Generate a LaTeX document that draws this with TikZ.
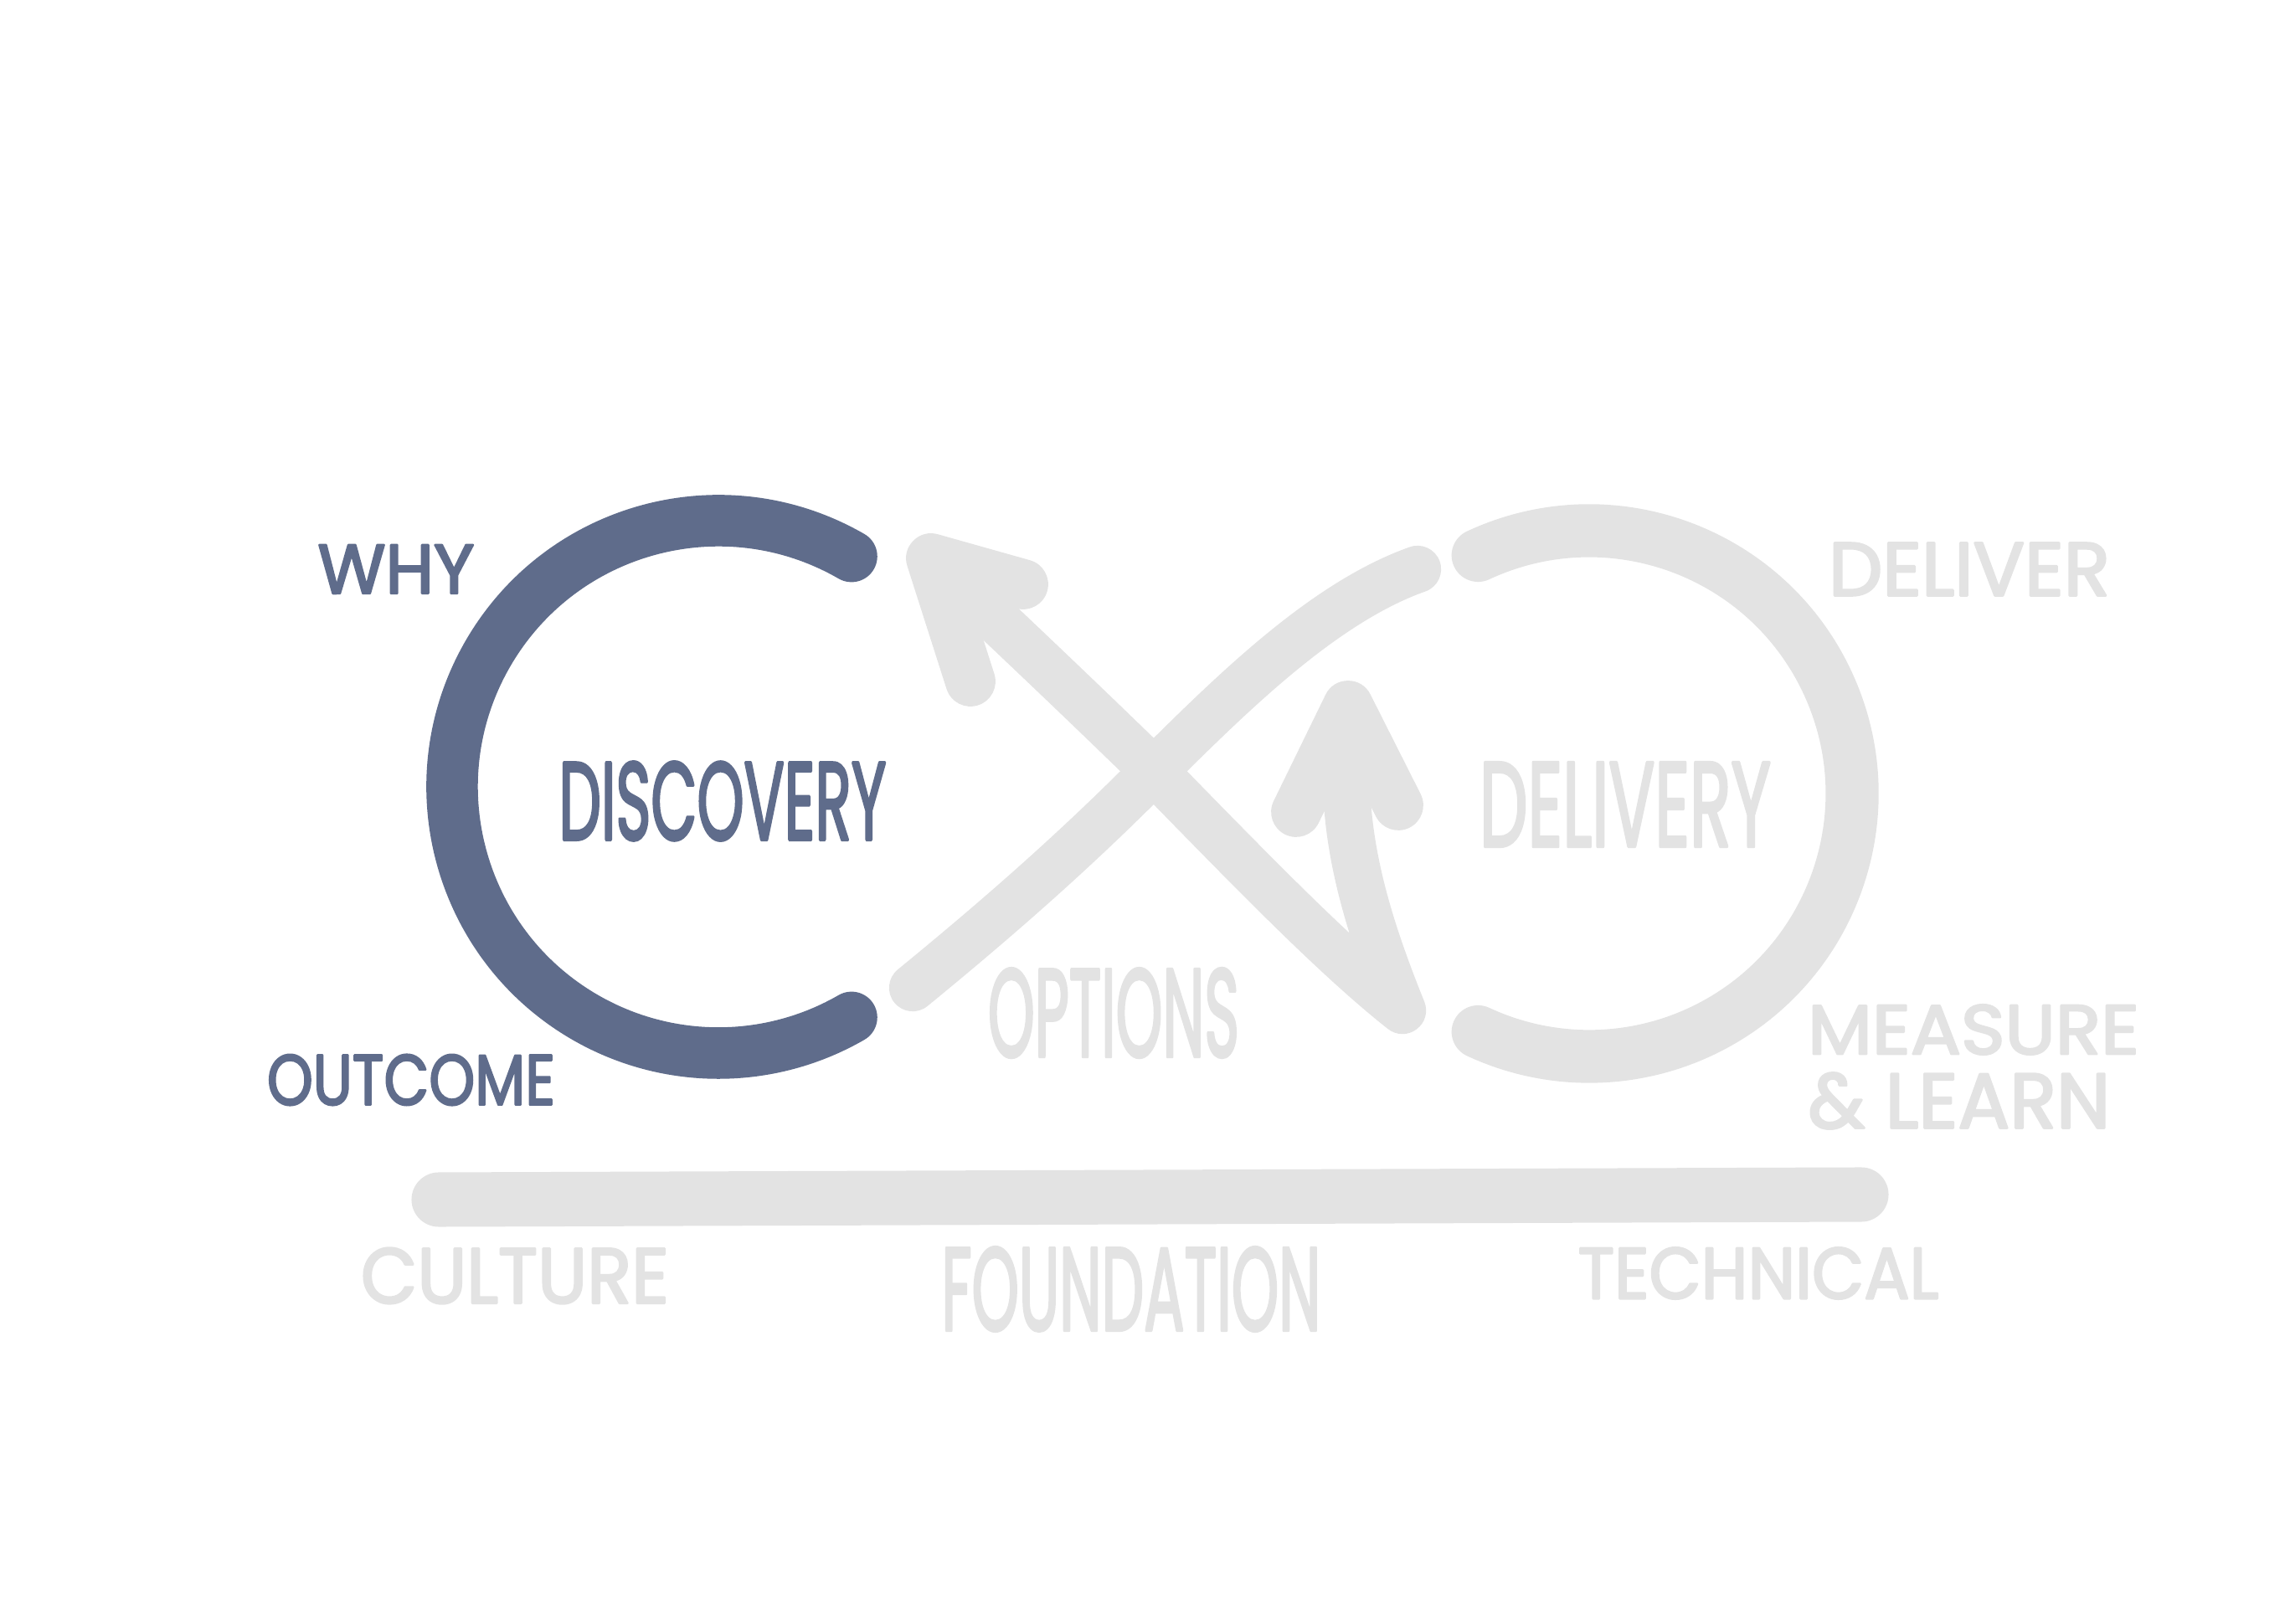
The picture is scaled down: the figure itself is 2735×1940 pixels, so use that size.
\documentclass[tikz,border=0pt]{standalone}
\usepackage{fontspec}
\usepackage{graphicx}
\newfontfamily\handfont{Poppins}[FakeBold=3]
\definecolor{azul}{RGB}{95,108,139}
\definecolor{gris}{RGB}{227,227,227}
\newlength{\unidad}\setlength{\unidad}{0.01cm}
\newcommand{\mano}[3]{\resizebox{#1\unidad}{#2\unidad}{\handfont #3}}

\begin{document}
\begin{tikzpicture}[x=0.01cm, y=-0.01cm, line cap=round, line join=round]
\useasboundingbox (0,0) rectangle (2735,1940);
% Descubrimiento
\draw[azul, line width=17.5pt] (858,940) ++(-60:318) arc[start angle=-60, end angle=-300, radius=318];
% Entrega
\draw[gris, line width=18pt] (1898,948) ++(-115:314) arc[start angle=-115, end angle=115, radius=314];
% Cruce sin flecha
\draw[gris, line width=16pt] (1090,1180) .. controls (1200,1090) and (1290,1010) .. (1378,921)
  .. controls (1470,830) and (1580,720) .. (1693,680);
% Cruce con flechas
\draw[gris, line width=16pt] (1112,667) .. controls (1200,750) and (1290,835) .. (1378,921)
  .. controls (1480,1025) and (1590,1140) .. (1675,1207)
  .. controls (1640,1120) and (1610,1030) .. (1608,935) -- (1610,843);
\draw[gris, line width=17pt] (1222,698) -- (1112,667) -- (1159,814);
\draw[gris, line width=17pt] (1548,970) -- (1610,843) -- (1670,962);
% Base
\draw[gris, line width=18.5pt] (524,1433) -- (2223,1427);
% Textos
\node[azul, inner sep=0] (why) at (473,680) {\mano{187}{58}{WHY}};
\node[azul, inner sep=0] (outcome) at (491,1290) {\mano{344}{60}{OUTCOME}};
\node[azul, inner sep=0] (discovery) at (863,957) {\mano{391}{93}{DISCOVERY}};
\node[gris, inner sep=0] (options) at (1330,1210) {\mano{300}{105}{OPTIONS}};
\node[gris, inner sep=0] (delivery) at (1941,961) {\mano{348}{100}{DELIVERY}};
\node[gris, inner sep=0] (deliver) at (2352,680) {\mano{336}{63}{DELIVER}};
\node[gris, inner sep=0] (measure) at (2357,1230) {\mano{396}{59}{MEASURE}};
\node[gris, inner sep=0] (learn) at (2340,1315) {\mano{361}{66}{\& LEARN}};
\node[gris, inner sep=0] (culture) at (615,1524) {\mano{368}{66}{CULTURE}};
\node[gris, inner sep=0] (foundation) at (1351,1540) {\mano{453}{99}{FOUNDATION}};
\node[gris, inner sep=0] (technical) at (2100,1521) {\mano{431}{61}{TECHNICAL}};
\end{tikzpicture}
\end{document}
